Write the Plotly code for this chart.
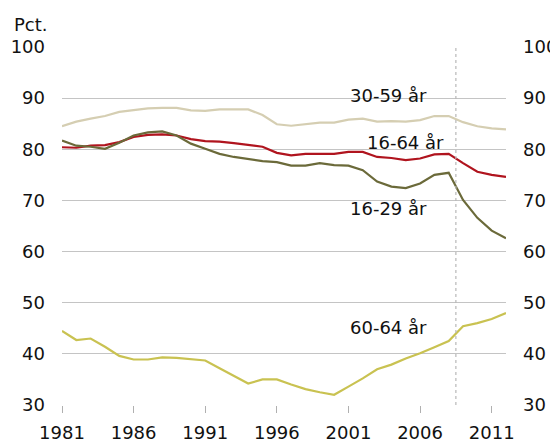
import plotly.graph_objects as go

years = list(range(1981, 2013))

age_30_59 = [84.5, 85.4, 86.0, 86.5, 87.3, 87.6, 88.0, 88.1, 88.1, 87.6, 87.5, 87.8, 87.8, 87.8, 86.7, 84.9,
             84.6, 84.9, 85.2, 85.2, 85.8, 86.0, 85.4, 85.5, 85.4, 85.7, 86.5, 86.5, 85.3, 84.5, 84.1, 83.9]
age_16_64 = [80.4, 80.3, 80.7, 80.8, 81.4, 82.4, 82.8, 82.9, 82.7, 82.0, 81.6, 81.5, 81.2, 80.9, 80.5, 79.3,
             78.8, 79.1, 79.1, 79.1, 79.5, 79.5, 78.5, 78.3, 77.9, 78.2, 79.0, 79.1, 77.3, 75.6, 75.0, 74.6]
age_16_29 = [81.7, 80.7, 80.5, 80.1, 81.3, 82.7, 83.3, 83.5, 82.7, 81.1, 80.1, 79.1, 78.5, 78.1, 77.7, 77.5,
             76.8, 76.8, 77.3, 76.9, 76.8, 75.9, 73.7, 72.7, 72.4, 73.3, 75.0, 75.4, 70.1, 66.6, 64.1, 62.6]
age_60_64 = [44.5, 42.7, 43.0, 41.4, 39.6, 38.9, 38.9, 39.3, 39.2, 38.9, 38.7, 37.2, 35.7, 34.2, 35.0, 35.0,
             34.0, 33.1, 32.5, 32.0, 33.6, 35.2, 37.0, 37.9, 39.1, 40.1, 41.3, 42.5, 45.4, 46.0, 46.8, 48.0]

series_names = ["30-59 år", "16-64 år", "16-29 år", "60-64 år"]
series_values = [age_30_59, age_16_64, age_16_29, age_60_64]
series_colors = ["#d5ceb2", "#b0141e", "#6b6a3a", "#c9c251"]

x_ticks = [1981, 1986, 1991, 1996, 2001, 2006, 2011]
y_ticks = [30, 40, 50, 60, 70, 80, 90, 100]
label_pos = [(2003.8, 90.6), (2005.0, 81.4), (2003.8, 68.5), (2003.8, 45.1)]
break_year = 2008.5

fig = go.Figure()
for name, vals, col in zip(series_names, series_values, series_colors):
    fig.add_trace(go.Scatter(x=years, y=vals, mode="lines", name=name,
                             line=dict(color=col, width=2.2), showlegend=False))
fig.add_trace(go.Scatter(x=[years[0]], y=[None], yaxis="y2", showlegend=False,
                         hoverinfo="skip", mode="lines"))

for name, (lx, ly) in zip(series_names, label_pos):
    fig.add_annotation(x=lx, y=ly, text=name, showarrow=False,
                       font=dict(size=18, color="#111111"))

fig.add_shape(type="line", x0=break_year, x1=break_year, y0=30, y1=100,
              xref="x", yref="y", line=dict(color="#b8b8b8", width=1.2, dash="dot"))

fig.add_annotation(x=0, y=1, xref="paper", yref="paper", xanchor="left", yanchor="middle",
                   xshift=-50, yshift=23, text="Pct.", showarrow=False,
                   font=dict(size=18, color="#111111"))

# page body has an 8px default margin, so the figure is sized to fit the window
fig.update_layout(
    width=550, height=435,
    margin=dict(l=54, r=52, t=39, b=38, autoexpand=False),
    paper_bgcolor="white", plot_bgcolor="white",
    font=dict(family="DejaVu Sans", size=18, color="#111111"),
    xaxis=dict(range=[1981, 2012], tickvals=x_ticks, ticktext=[str(t) for t in x_ticks],
               showgrid=False, zeroline=False, showline=False, automargin=False,
               ticks="outside", ticklen=7, tickcolor="#b0b0b0", tickwidth=1,
               ticklabelstandoff=4),
    yaxis=dict(range=[30, 100], tickvals=y_ticks, showgrid=True, gridcolor="#c4c4c4",
               gridwidth=1.3, zeroline=False, showline=False, ticks="",
               ticklabelstandoff=16, automargin=False),
    yaxis2=dict(range=[30, 100], tickvals=y_ticks, overlaying="y", side="right",
                showgrid=False, zeroline=False, showline=False, ticks="",
                ticklabelstandoff=16, automargin=False),
)

fig.write_html("out.html")
